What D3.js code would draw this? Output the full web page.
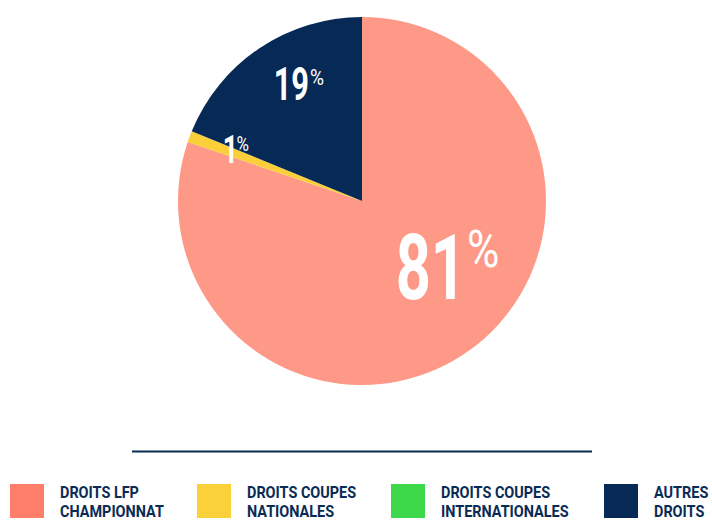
<!DOCTYPE html>
<html><head><meta charset="utf-8">
<script src="https://cdn.jsdelivr.net/npm/d3@7"></script>
<style>body{margin:0;background:#fff}svg{display:block}</style>
</head><body>
<script>
const categories = ["DROITS LFP CHAMPIONNAT","DROITS COUPES NATIONALES","DROITS COUPES INTERNATIONALES","AUTRES DROITS"];
const legendLines = [["DROITS LFP","CHAMPIONNAT"],["DROITS COUPES","NATIONALES"],["DROITS COUPES","INTERNATIONALES"],["AUTRES","DROITS"]];
const values = [81, 1, 0, 19];
const labels = ["81", "1", "", "19"];
const pieColors = ["#FD9986", "#FBCF3A", "#3DD94A", "#062A55"];
const legendColors = ["#FF7E6A", "#FBD13A", "#3DD94A", "#062A55"];

const W = 712, H = 521;
const svg = d3.select("body").append("svg").attr("width", W).attr("height", H);
const cx = 362, cy = 201, R = 184;
const pie = d3.pie().sort(null).value(d => d)(values);
const arc = d3.arc().innerRadius(0).outerRadius(R);
const g = svg.append("g").attr("transform", `translate(${cx},${cy})`);
g.selectAll("path").data(pie).join("path")
  .attr("d", arc).attr("fill", (d, i) => pieColors[i]);

// label layout relative to centre: number end (nx, baseline ny, size F), percent start (px, top pTop, size f)
const labelLayout = [
  {nx: 104, ny: 97.5, F: 91.5, px: 105, pTop: 29, f: 52},
  {nx: -124, ny: -37.7, F: 39.4, px: -125.5, pTop: -64.3, f: 20},
  null,
  {nx: -53, ny: -101, F: 46, px: -52, pTop: -132, f: 22.5}
];
const font = "Roboto, 'Noto Sans', sans-serif";
labels.forEach((t, i) => {
  const L = labelLayout[i];
  if (!L || !t) return;
  g.append("g").attr("transform", `translate(${L.nx},${L.ny}) scale(0.67,1)`)
    .append("text").attr("text-anchor", "end")
    .attr("font-family", font).attr("font-weight", 700).attr("font-size", L.F)
    .attr("fill", "#fff").text(t);
  g.append("g").attr("transform", `translate(${L.px},${L.pTop + 0.711 * L.f}) scale(0.85,1)`)
    .append("text").attr("text-anchor", "start")
    .attr("font-family", font).attr("font-weight", 400).attr("font-size", L.f)
    .attr("fill", "#fff").text("%");
});

// separator line
svg.append("line").attr("x1", 132).attr("x2", 592).attr("y1", 451.5).attr("y2", 451.5)
  .attr("stroke", "#0A2B55").attr("stroke-width", 2);

// legend
const legendX = [10, 197, 391, 604];
const lg = svg.append("g");
categories.forEach((c, i) => {
  const x = legendX[i];
  lg.append("rect").attr("x", x).attr("y", 484).attr("width", 34).attr("height", 34)
    .attr("fill", legendColors[i]);
  const tg = lg.append("g").attr("transform", `translate(${x + 50},0) scale(0.87,1)`);
  const t = tg.append("text")
    .attr("font-family", font).attr("font-weight", 700).attr("font-size", 16.6)
    .attr("fill", "#0A2B55");
  legendLines[i].forEach((ln, j) => {
    t.append("tspan").attr("x", 0).attr("y", 498 + j * 19.5).text(ln);
  });
});
</script>
</body></html>
